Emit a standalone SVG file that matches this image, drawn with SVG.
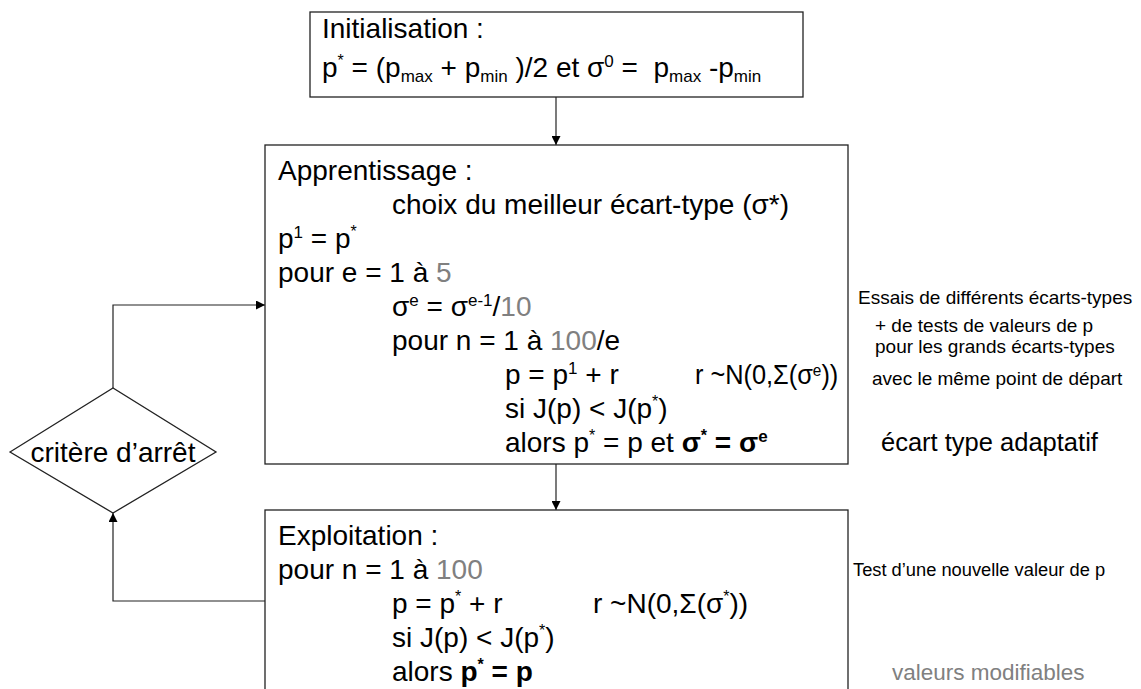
<svg xmlns="http://www.w3.org/2000/svg" width="1141" height="689" viewBox="0 0 1141 689">
<defs>
<style>
text{font-family:"Liberation Sans",Arial,sans-serif;fill:#000;white-space:pre}
.m{font-size:28px}
.s{font-size:19px}
.sup{font-size:17px}
.st{font-size:16px}
.g{fill:#808080}
.b{font-weight:bold}
.box{fill:#fff;stroke:#222;stroke-width:1.3}
.con{fill:none;stroke:#222;stroke-width:1.2}
</style>
<marker id="ah" viewBox="0 0 10 10" refX="10" refY="5" markerWidth="9" markerHeight="9" markerUnits="userSpaceOnUse" orient="auto">
<path d="M0,0 L10,5 L0,10 z" fill="#000"/>
</marker>
</defs>
<rect width="1141" height="689" fill="#fff"/>

<g id="connectors">
<line class="con" x1="556" y1="97" x2="556" y2="145" marker-end="url(#ah)"/>
<line class="con" x1="556" y1="464" x2="556" y2="510" marker-end="url(#ah)"/>
<path class="con" d="M113,388 V305 H265" marker-end="url(#ah)"/>
<path class="con" d="M265,601 H113 V513" marker-end="url(#ah)"/>
</g>

<g id="init">
<rect class="box" x="310" y="12" width="493" height="85"/>
<text class="m" x="322" y="38">Initialisation :</text>
<text class="m" x="322" y="77">p<tspan class="st" dy="-11">*</tspan><tspan dy="11"> = (p</tspan><tspan class="sup" dy="5">max</tspan><tspan dy="-5"> + p</tspan><tspan class="sup" dy="5">min</tspan><tspan dy="-5"> )/2 et σ</tspan><tspan class="sup" dy="-10">0</tspan><tspan dy="10"> =  p</tspan><tspan class="sup" dy="5">max</tspan><tspan dy="-5"> -p</tspan><tspan class="sup" dy="5">min</tspan></text>
</g>

<g id="apprentissage">
<rect class="box" x="265" y="145" width="583" height="319"/>
<text class="m" x="278" y="180">Apprentissage :</text>
<text class="m" x="392" y="214">choix du meilleur écart-type (σ*)</text>
<text class="m" x="278" y="248">p<tspan class="sup" dy="-10">1</tspan><tspan dy="10"> = p</tspan><tspan class="st" dy="-11">*</tspan></text>
<text class="m" x="278" y="282">pour e = 1 à <tspan class="g">5</tspan></text>
<text class="m" x="392" y="316">σ<tspan class="sup" dy="-10">e</tspan><tspan dy="10"> = σ</tspan><tspan class="sup" dy="-10">e-1</tspan><tspan dy="10">/</tspan><tspan class="g">10</tspan></text>
<text class="m" x="392" y="350">pour n = 1 à <tspan class="g">100</tspan>/e</text>
<text class="m" x="505" y="384">p = p<tspan class="sup" dy="-10">1</tspan><tspan dy="10"> + r</tspan></text>
<text class="m" transform="translate(695,384) scale(0.905,1)" x="0" y="0">r ~N(0,Σ(σ<tspan class="sup" dy="-8">e</tspan><tspan dy="8">))</tspan></text>
<text class="m" x="505" y="418">si J(p) &lt; J(p<tspan class="st" dy="-11">*</tspan><tspan dy="11">)</tspan></text>
<text class="m" x="505" y="452">alors p<tspan class="st" dy="-11">*</tspan><tspan dy="11"> = p et </tspan><tspan class="b">σ</tspan><tspan class="st b" dy="-11">*</tspan><tspan class="b" dy="11"> = σ</tspan><tspan class="sup b" dy="-10">e</tspan></text>
</g>

<g id="exploitation">
<rect class="box" x="265" y="510" width="583" height="200"/>
<text class="m" x="278" y="545">Exploitation :</text>
<text class="m" x="278" y="579">pour n = 1 à <tspan class="g">100</tspan></text>
<text class="m" x="392" y="613">p = p<tspan class="st" dy="-11">*</tspan><tspan dy="11"> + r</tspan></text>
<text class="m" x="593" y="613">r ~N(0,Σ(σ<tspan class="st" dy="-11">*</tspan><tspan dy="11">))</tspan></text>
<text class="m" x="392" y="647">si J(p) &lt; J(p<tspan class="st" dy="-11">*</tspan><tspan dy="11">)</tspan></text>
<text class="m" x="392" y="681">alors <tspan class="b">p</tspan><tspan class="st b" dy="-11">*</tspan><tspan class="b" dy="11"> = p</tspan></text>
</g>

<g id="critere">
<polygon class="box" points="10,452 113,388 216,452 113,513"/>
<text class="m" x="113" y="462" text-anchor="middle">critère d’arrêt</text>
</g>

<g id="annotations">
<text class="s" x="858" y="304">Essais de différents écarts-types</text>
<text class="s" x="875" y="332">+ de tests de valeurs de p</text>
<text class="s" x="875" y="353">pour les grands écarts-types</text>
<text class="s" x="872" y="385">avec le même point de départ</text>
<text x="881" y="451" style="font-size:25.5px">écart type adaptatif</text>
<text class="s" x="853" y="576" style="font-size:18.3px">Test d’une nouvelle valeur de p</text>
<text class="g" x="892" y="680" style="font-size:22.5px">valeurs modifiables</text>
</g>
</svg>
